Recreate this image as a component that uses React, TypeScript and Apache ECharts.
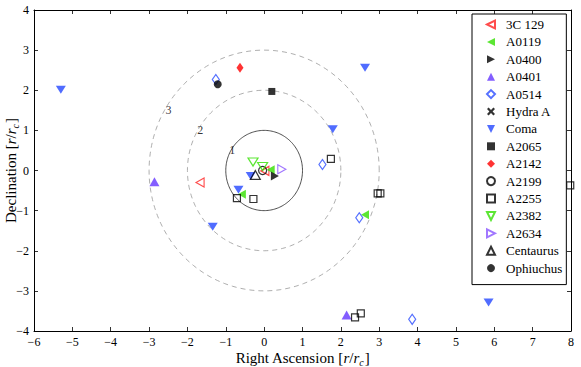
import React, { useEffect, useRef } from 'react';
import * as echarts from 'echarts';

const FONT = 'Liberation Serif, serif';

// tick values
const xMin = -6, xMax = 8, yMin = -4, yMax = 4;

// reference circles (radii in r/rc)
const circleRadii = [1, 2, 3];
const circleLabels = ['1', '2', '3'];
const circleLabelAngleDeg = 149;

// cluster data [RA, Dec]
const s3C129 = [[-1.67, -0.30], [0.02, -0.01]];
const sA0119 = [[0.17, 0.02], [-0.58, -0.59], [2.63, -1.10]];
const sA0400 = [[0.28, -0.14]];
const sA0401 = [[-2.86, -0.28], [2.15, -3.60]];
const sA0514 = [[-1.26, 2.27], [1.52, 0.15], [2.48, -1.18], [3.86, -3.71]];
const sHydraA: number[][] = [];
const sComa = [[-5.30, 2.01], [2.63, 2.56], [1.79, 1.03], [-0.35, -0.14], [-0.67, -0.48], [-1.34, -1.40], [5.85, -3.29]];
const sA2065 = [[0.20, 1.97]];
const sA2142 = [[-0.63, 2.56]];
const sA2199 = [[-0.04, 0.0]];
const sA2255 = [[1.74, 0.29], [-0.71, -0.69], [-0.28, -0.71], [2.96, -0.57], [3.03, -0.57], [7.98, -0.37], [2.37, -3.66], [2.52, -3.56]];
const sA2382 = [[-0.29, 0.21], [-0.04, 0.10]];
const sA2634 = [[0.46, 0.03]];
const sCentaurus = [[-0.23, -0.11]];
const sOphiuchus = [[-1.21, 2.15]];

const LEFT = 'path://M0,5L10,0L10,10Z';
const RIGHT = 'path://M10,5L0,0L0,10Z';
const DOWN = 'path://M0,0L10,0L5,10Z';
const UP = 'path://M5,0L10,10L0,10Z';
const XMARK = 'path://M0,2L2,0L5,3L8,0L10,2L7,5L10,8L8,10L5,7L2,10L0,8L3,5Z';

const clusters = [
  { name: '3C 129', data: s3C129, symbol: LEFT, color: '#ff2020', filled: false, size: [8, 9] },
  { name: 'A0119', data: sA0119, symbol: LEFT, color: '#33e000', filled: true, size: [8, 9] },
  { name: 'A0400', data: sA0400, symbol: RIGHT, color: '#000000', filled: true, size: [8, 9] },
  { name: 'A0401', data: sA0401, symbol: UP, color: '#6436ff', filled: true, size: [10, 9] },
  { name: 'A0514', data: sA0514, symbol: 'diamond', color: '#2a4cff', filled: false, size: [7, 10] },
  { name: 'Hydra A', data: sHydraA, symbol: XMARK, color: '#000000', filled: true, size: [7, 7] },
  { name: 'Coma', data: sComa, symbol: DOWN, color: '#2447ff', filled: true, size: [10, 8] },
  { name: 'A2065', data: sA2065, symbol: 'rect', color: '#000000', filled: true, size: [7, 7] },
  { name: 'A2142', data: sA2142, symbol: 'diamond', color: '#ff0000', filled: true, size: [7, 10] },
  { name: 'A2199', data: sA2199, symbol: 'circle', color: '#000000', filled: false, size: [8, 8] },
  { name: 'A2255', data: sA2255, symbol: 'rect', color: '#000000', filled: false, size: [7, 7] },
  { name: 'A2382', data: sA2382, symbol: DOWN, color: '#33e000', filled: false, size: [10, 8] },
  { name: 'A2634', data: sA2634, symbol: RIGHT, color: '#8a55ff', filled: false, size: [8, 9] },
  { name: 'Centaurus', data: sCentaurus, symbol: UP, color: '#000000', filled: false, size: [10, 9] },
  { name: 'Ophiuchus', data: sOphiuchus, symbol: 'circle', color: '#000000', filled: true, size: [8, 8] },
];

const fmt = (v: number) => String(v).replace('-', '\u2212');

export default function App() {
  const ref = useRef<HTMLDivElement>(null);
  useEffect(() => {
    document.body.style.margin = '0';
    if (!ref.current) return;
    const chart = echarts.init(ref.current, undefined, { renderer: 'svg' });

    const circleSeries = circleRadii.map((r, i) => {
      const pts: number[][] = [];
      for (let a = 0; a <= 360; a += 2) {
        const t = (a * Math.PI) / 180;
        pts.push([r * Math.cos(t), r * Math.sin(t)]);
      }
      return {
        type: 'line',
        name: 'circle' + r,
        data: pts,
        showSymbol: false,
        silent: true,
        z: 1,
        lineStyle: i === 0
          ? { color: '#222', width: 0.8, type: 'solid' }
          : { color: '#999', width: 0.8, type: [5, 4] },
      };
    });

    const labelT = (circleLabelAngleDeg * Math.PI) / 180;
    const labelSeries = {
      type: 'scatter',
      name: 'circleLabels',
      symbolSize: 0,
      silent: true,
      z: 1,
      data: circleRadii.map((r, i) => ({
        name: circleLabels[i],
        value: [r * 0.97 * Math.cos(labelT), r * 0.97 * Math.sin(labelT)],
      })),
      label: {
        show: true,
        position: 'inside',
        formatter: '{b}',
        fontFamily: FONT,
        fontSize: 12,
        color: '#000',
      },
    };

    const scatterSeries = clusters.map((c) => ({
      type: 'scatter',
      name: c.name,
      data: c.data,
      symbol: c.symbol,
      symbolSize: c.size,
      clip: false,
      z: 3,
      itemStyle: c.filled
        ? { color: c.color, borderWidth: 0 }
        : { color: 'rgba(255,255,255,0)', borderColor: c.color, borderWidth: 1.2 },
    }));

    const axisCommonX = {
      type: 'value',
      min: xMin,
      max: xMax,
      interval: 1,
      splitLine: { show: false },
      axisLine: { show: true, onZero: false, lineStyle: { color: '#000', width: 1 } },
      axisTick: { show: true, inside: true, length: 4, lineStyle: { color: '#000', width: 0.8 } },
    };
    const axisCommonY = {
      type: 'value',
      min: yMin,
      max: yMax,
      interval: 1,
      splitLine: { show: false },
      axisLine: { show: true, onZero: false, lineStyle: { color: '#000', width: 1 } },
      axisTick: { show: true, inside: true, length: 4, lineStyle: { color: '#000', width: 0.8 } },
    };

    const nameRich = {
      n: { fontFamily: FONT, fontSize: 15, color: '#000', lineHeight: 18 },
      i: { fontFamily: FONT, fontSize: 15, fontStyle: 'italic', color: '#000', lineHeight: 18 },
      s: { fontFamily: FONT, fontSize: 10, fontStyle: 'italic', color: '#000', lineHeight: 12, verticalAlign: 'bottom', padding: [0, 1, 0, 0] },
    };

    chart.setOption({
      animation: false,
      textStyle: { fontFamily: FONT },
      grid: { left: 34, right: 10, top: 10, bottom: 36, containLabel: false, outerBoundsMode: 'none' },
      xAxis: [
        {
          ...axisCommonX,
          position: 'bottom',
          axisLabel: { formatter: fmt, fontFamily: FONT, fontSize: 12, color: '#000', margin: 5 },
          name: '{n|Right Ascension [}{i|r}{n|/}{i|r}{s|c}{n|]}',
          nameLocation: 'middle',
          nameGap: 18,
          nameMoveOverlap: false,
          nameTextStyle: { fontFamily: FONT, rich: nameRich },
        },
        {
          ...axisCommonX,
          position: 'top',
          axisLabel: { show: false },
        },
      ],
      yAxis: [
        {
          ...axisCommonY,
          position: 'left',
          axisLabel: { formatter: fmt, fontFamily: FONT, fontSize: 12, color: '#000', margin: 5 },
          name: '{n|Declination [}{i|r}{n|/}{i|r}{s|c}{n|]}',
          nameLocation: 'middle',
          nameGap: 14,
          nameMoveOverlap: false,
          nameTextStyle: { fontFamily: FONT, rich: nameRich },
        },
        {
          ...axisCommonY,
          position: 'right',
          axisLabel: { show: false },
        },
      ],
      legend: {
        orient: 'vertical',
        left: 472,
        top: 14,
        width: 95,
        data: clusters.map((c) => c.name),
        backgroundColor: '#fff',
        borderColor: '#000',
        borderWidth: 1,
        borderRadius: 0,
        padding: [4, 4, 10, 14],
        itemGap: 4.4,
        itemWidth: 8,
        itemHeight: 8,
        textStyle: { fontFamily: FONT, fontSize: 13, color: '#000', lineHeight: 12, padding: [0, 0, 0, 6] },
      },
      series: [...circleSeries, labelSeries, ...scatterSeries],
    });
    return () => chart.dispose();
  }, []);
  return <div ref={ref} style={{ width: 581, height: 367 }} />;
}
